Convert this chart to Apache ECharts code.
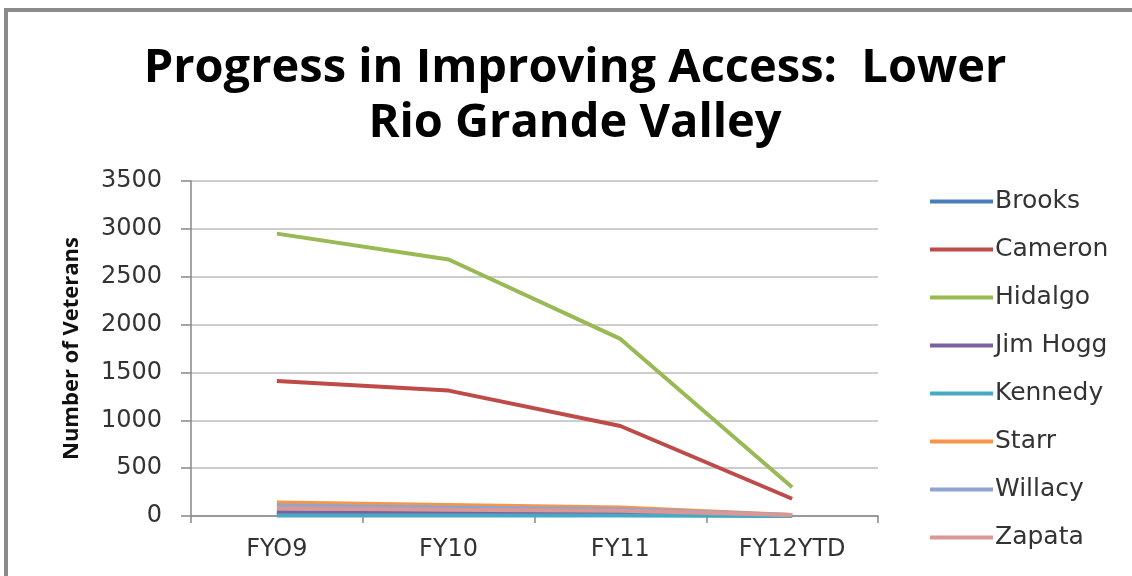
<!DOCTYPE html>
<html><head><meta charset="utf-8">
<script src="https://cdn.jsdelivr.net/npm/echarts@6/dist/echarts.min.js"></script>
<style>html,body{margin:0;padding:0;background:#fff}#c{width:1132px;height:576px}</style>
</head><body><div id="c"></div>
<script>
const categories = ['FYO9', 'FY10', 'FY11', 'FY12YTD'];
const yTicks = [0, 500, 1000, 1500, 2000, 2500, 3000, 3500];
const brooks   = [20, 15, 15, 3];
const cameron  = [1410, 1310, 940, 180];
const hidalgo  = [2950, 2680, 1850, 300];
const jimHogg  = [40, 35, 30, 5];
const kennedy  = [5, 5, 5, 1];
const starr    = [140, 115, 90, 10];
const willacy  = [110, 90, 70, 10];
const zapata   = [80, 65, 55, 10];
const seriesNames = ['Brooks','Cameron','Hidalgo','Jim Hogg','Kennedy','Starr','Willacy','Zapata'];
const seriesData = [brooks, cameron, hidalgo, jimHogg, kennedy, starr, willacy, zapata];
const colors = ['#4a7ebb','#be4b48','#98b954','#7d60a0','#46aac5','#f79646','#8ea5cf','#d99795'];

const chart = echarts.init(document.getElementById('c'));
chart.setOption({
  animation: false,
  color: colors,
  graphic: [{
    type: 'polyline', silent: true,
    shape: { points: [[6, 576], [6, 10], [1132, 10]] },
    style: { stroke: '#8a8a8a', lineWidth: 4, fill: null }
  }],
  title: {
    text: 'Progress in Improving Access:  Lower\nRio Grande Valley',
    left: 570, top: 36, textAlign: 'center',
    textStyle: { fontFamily: 'Open Sans', fontWeight: 'bold', fontSize: 47, lineHeight: 55, color: '#000' }
  },
  legend: {
    orient: 'vertical', left: 925, top: 184, itemGap: 23,
    itemWidth: 63, itemHeight: 28,
    icon: 'path://M0,12 L63,12 L63,16 L0,16 Z',
    data: seriesNames,
    textStyle: { fontFamily: 'DejaVu Sans', fontSize: 25, color: '#333', padding: [0,0,0,-3] }
  },
  grid: { left: 191, right: 254, top: 181, bottom: 60 },
  xAxis: {
    type: 'category', data: categories, boundaryGap: true,
    axisLine: { lineStyle: { color: '#888', width: 1.5 } },
    axisTick: { show: true, length: 7, lineStyle: { color: '#888', width: 1.5 } },
    axisLabel: { fontFamily: 'DejaVu Sans', fontSize: 24, color: '#333', margin: 22 }
  },
  yAxis: {
    type: 'value', min: 0, max: 3500, interval: 500,
    name: 'Number of Veterans', nameLocation: 'middle', nameGap: 108, nameRotate: 90,
    nameTextStyle: { fontFamily: 'Open Sans', fontWeight: 'bold', fontSize: 22, color: '#111' },
    axisLine: { show: true, lineStyle: { color: '#888', width: 1.5 } },
    axisTick: { show: true, length: 10, lineStyle: { color: '#888', width: 1.5 } },
    axisLabel: { fontFamily: 'DejaVu Sans', fontSize: 24, color: '#333', margin: 29,
      formatter: v => yTicks.includes(v) ? String(v) : '' },
    splitLine: { lineStyle: { color: '#bdbdbd', width: 1.5 } }
  },
  series: seriesNames.map((n, i) => ({
    name: n, type: 'line', data: seriesData[i], symbol: 'none',
    lineStyle: { width: 4, color: colors[i] }, itemStyle: { color: colors[i] }
  }))
});
</script></body></html>
